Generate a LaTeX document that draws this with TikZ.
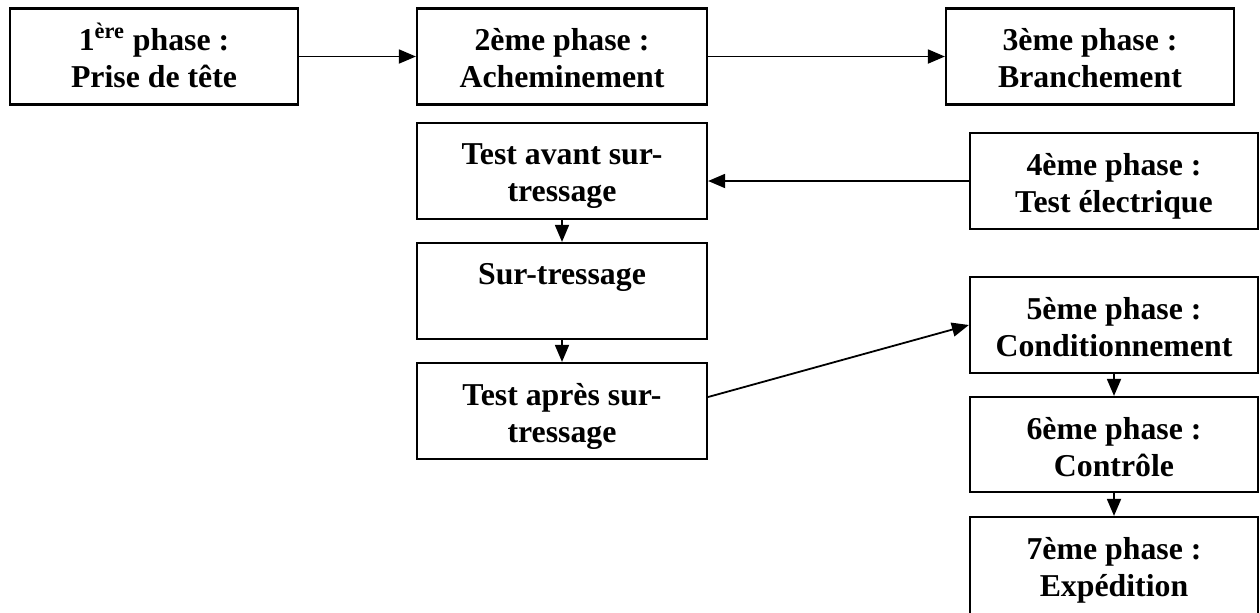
\documentclass[tikz,border=0pt]{standalone}
\usepackage{fontspec}
\setmainfont{Liberation Serif}
\usetikzlibrary{arrows.meta}
\begin{document}
\begin{tikzpicture}[x=0.5pt,y=-0.5pt,
  stepbox/.style={draw=black,line width=1.1pt,minimum width=144pt,minimum height=48pt,inner sep=0pt},
  boxtext/.style={anchor=north,inner sep=0pt,align=center,font=\fontsize{15.9}{18.5}\selectfont\bfseries,yshift=-10.5pt},
  conn/.style={line width=0.9pt,-{Triangle[length=8.5pt,width=7pt]}}]
\useasboundingbox (0,0) rectangle (1260,612);
\node[stepbox] (b1) at (154,56.5) {};
\node[stepbox,minimum width=145pt] (b2) at (562,56.5) {};
\node[stepbox] (b3) at (1090,56.5) {};
\node[stepbox,minimum width=145pt] (ta) at (562,171) {};
\node[stepbox] (b4) at (1114,181) {};
\node[stepbox,minimum width=145pt] (st) at (562,291) {};
\node[stepbox,minimum width=145pt] (tp) at (562,411) {};
\node[stepbox] (b5) at (1114,325) {};
\node[stepbox,minimum height=47.5pt] (b6) at (1114,444.5) {};
\node[stepbox,minimum height=50pt] (b7) at (1114,567) {};
\node[boxtext] (t1) at (b1.north) {1\smash{\textsuperscript{ère}} phase :\\Prise de tête};
\node[boxtext] (t2) at (b2.north) {2ème phase :\\Acheminement};
\node[boxtext] (t3) at (b3.north) {3ème phase :\\Branchement};
\node[boxtext] (tta) at (ta.north) {Test avant sur-\\tressage};
\node[boxtext] (t4) at (b4.north) {4ème phase :\\Test électrique};
\node[boxtext] (tst) at (st.north) {Sur-tressage};
\node[boxtext] (ttp) at (tp.north) {Test après sur-\\tressage};
\node[boxtext] (t5) at (b5.north) {5ème phase :\\Conditionnement};
\node[boxtext] (t6) at (b6.north) {6ème phase :\\Contrôle};
\node[boxtext] (t7) at (b7.north) {7ème phase :\\Expédition};
\draw[conn] (b1.east) -- (b2.west);
\draw[conn] (b2.east) -- (b3.west);
\draw[conn] (b4.west) -- (b4.west -| ta.east);
\draw[conn] (ta.south) -- (st.north);
\draw[conn] (st.south) -- (tp.north);
\draw[conn] ([yshift=7pt]tp.east) -- (b5.west);
\draw[conn] (b5.south) -- (b6.north);
\draw[conn] (b6.south) -- (b7.north);
\end{tikzpicture}
\end{document}
